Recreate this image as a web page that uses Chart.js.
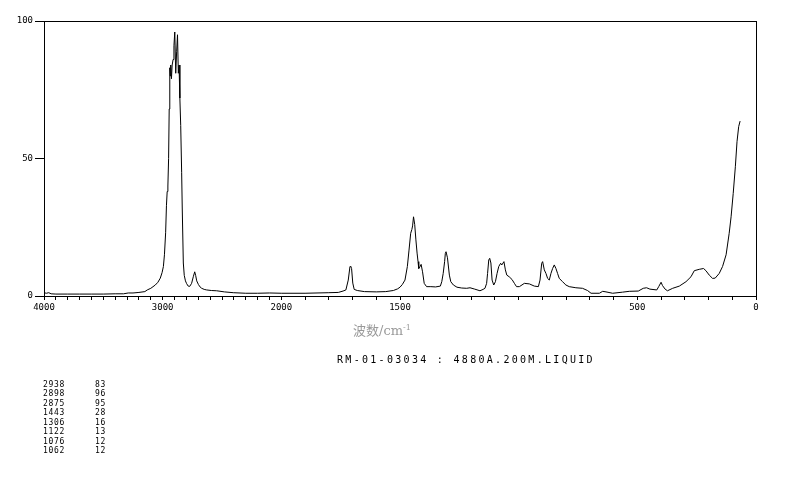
<!DOCTYPE html>
<html>
<head>
<meta charset="utf-8">
<script src="https://cdn.jsdelivr.net/npm/chart.js@4.4.1/dist/chart.umd.min.js"></script>
<style>
body{margin:0;background:#fff;}
#wrap{position:relative;width:794px;height:482px;}
#xlab{position:absolute;left:353px;top:320px;font-size:13px;color:#999;font-family:"Noto Sans CJK SC","DejaVu Serif",serif;white-space:nowrap;}
#xlab .cm{font-family:"DejaVu Serif",serif;font-size:13px;}
#xlab sup{font-size:8px;}
#title{position:absolute;left:337px;top:354px;font-family:"DejaVu Sans Mono",monospace;font-size:10px;letter-spacing:2.3px;white-space:pre;color:#000;}
#peaks{position:absolute;left:43px;top:380px;font-family:"DejaVu Sans Mono",monospace;font-size:8px;line-height:9.43px;letter-spacing:0.7px;color:#000;}
#peaks .w{display:inline-block;width:52px;}
</style>
</head>
<body>
<div id="wrap">
<canvas id="canvasRaman" width="794" height="482"></canvas>
<div id="xlab">波数<span class="cm">/cm<sup>-1</sup></span></div>
<div id="title">RM-01-03034 : 4880A.200M.LIQUID</div>
<div id="peaks"></div>
</div>
<script>

// spectrum (wavenumber cm-1, intensity)
let wavenumber=[4000,3980,3960,3940,3900,3800,3700,3600,3500,3400,3330,3290,3250,3200,3150,3130,3100,3062,3040,3020,3005,
2994,2985,2975,2968,2962,2956,2950,2945,2940,2936,2932,2926,2920,2912,2905,2898,2890,2882,2875,2868,2862,2855,2848,2840,
2835,2826,2818,2808,2798,2785,2772,2756,2742,2730,2722,2713,2699,2685,2671,2650,2629,2590,2545,2480,2405,2300,2200,2100,
2000,1900,1800,1760,1740,1728,1718,1711,1708,1704,1699,1693,1680,1650,1600,1560,1528,1510,1500,1490,1479,1469,1462,1455,
1450,1447,1443,1438,1433,1428,1424,1421,1416,1411,1405,1398,1388,1370,1350,1330,1324,1318,1312,1309,1306,1300,1292,1286,
1275,1260,1240,1219,1205,1185,1163,1150,1142,1135,1131,1126,1122,1117,1112,1105,1098,1091,1084,1076,1071,1062,1056,1050,
1040,1028,1018,1009,997,976,955,934,917,910,903,899,892,885,878,871,864,857,850,843,836,829,815,801,787,759,731,710,695,
660,646,632,604,562,534,496,475,461,447,418,410,400,394,383,373,351,323,295,274,260,239,221,211,197,183,172,155,141,126,
113,105,96,87,80,73,67]

let intensity=[1.2,1.0,1.2,0.8,0.7,0.7,0.7,0.7,0.7,0.8,0.8,1.1,1.1,1.3,1.6,2.2,2.8,4.0,5.0,6.5,8.5,
10.7,15,23,33,38,40,50,68,83,80,84,79,84,86,91,96,81,89,95,81,84,72,62,45,
32,12,7.5,5.5,4.5,3.6,3.5,4.6,7,8.8,7.5,5.5,4.2,3.3,2.8,2.4,2.2,2.0,1.9,1.5,1.2,1.0,1.0,1.1,
1.0,1.0,1.2,1.3,1.8,2.2,5.8,10.6,10.9,10,4.7,2.4,2.0,1.6,1.5,1.6,2.0,2.6,3.2,4.2,5.8,10.7,16.7,22.8,
24.2,25.5,28.8,26,20.4,15.6,12.5,10,10.6,11.5,8.8,4.6,3.4,3.4,3.3,3.6,5.2,8.2,12.5,15.5,16.1,13.9,7.6,5.2,
4.0,3.2,2.9,2.8,3.0,2.5,1.9,2.4,2.8,4.6,8.2,13.1,13.7,12,5.8,4.0,5.2,8.2,10.7,11.9,11.3,12.5,9.5,7.6,
7.0,6.0,4.6,3.4,3.4,4.6,4.4,3.6,3.4,5.8,11.9,12.5,9.5,8.2,6.4,5.8,8.2,10,11.3,10,8.2,6.4,5.2,4.0,3.4,3.0,2.8,2.0,1.0,
1.0,1.7,1.5,1.0,1.4,1.7,1.8,2.8,3.0,2.5,2.2,3.4,5.0,3.8,2.5,1.9,2.8,3.6,5.2,7.0,9.2,9.7,10.0,9.2,7.6,6.4,6.5,8.2,10.7,15.0,
22.8,28.8,37.3,47,56.1,61.6,63.6]

let tickLabels=[4000,3000,2000,1500,500,0]

let peakPos=[2938,2898,2875,1443,1306,1122,1076,1062]
let peakVal=[83,96,95,28,16,13,12,12]


// axis is compressed by half above 2000 cm-1
function toAxis(w){
    if (w<=2000) return w;
    return 2000+(w-2000)/2;
}
function fromAxis(u){
    if (u<=2000) return u;
    return 2000+(u-2000)*2;
}


function buildPeakTable(){
    let html=''
    for (let i=0;i<peakPos.length;i++){
        html+='<div><span class="w">'+peakPos[i]+'</span>'+peakVal[i]+'</div>'
    }
    document.getElementById('peaks').innerHTML=html
}


const framePlugin={
    id:'frame',
    afterDraw(chart){
        let a=chart.chartArea
        let ctx=chart.ctx
        ctx.save()
        ctx.strokeStyle='#000'
        ctx.lineWidth=1
        ctx.strokeRect(a.left+0.5,a.top+0.5,a.right-a.left,a.bottom-a.top)
        ctx.restore()
    }
}


function buildSpectrum(){
    let pts=[]
    for (let i=0;i<wavenumber.length;i++){
        pts.push({x:toAxis(wavenumber[i]),y:intensity[i]})
    }

    let myChart={
        type:'line',
        data:{
            datasets:[{
                label:'Raman',
                data:pts,
                borderColor:'#000',
                borderWidth:1,
                pointRadius:0,
                fill:false,
                tension:0
            }]
        },
        options:{
            responsive:false,
            animation:false,
            layout:{padding:{left:0,top:21,right:38,bottom:0}},
            plugins:{legend:{display:false},tooltip:{enabled:false}},
            scales:{
                x:{
                    type:'linear',
                    min:0,
                    max:3000,
                    reverse:true,
                    border:{color:'#000',width:1},
                    grid:{drawOnChartArea:false,color:'#000',tickLength:4},
                    afterBuildTicks(s){
                        let t=[]
                        for (let u=0;u<2000;u+=100) t.push({value:u})
                        for (let u=2000;u<=3000;u+=50) t.push({value:u})
                        s.ticks=t
                    },
                    ticks:{
                        autoSkip:false,
                        maxRotation:0,
                        padding:2,
                        color:'#000',
                        font:{family:'DejaVu Sans Mono',size:9},
                        callback(v){
                            let w=Math.round(fromAxis(v))
                            return tickLabels.includes(w) ? String(w) : ''
                        }
                    },
                    afterFit(s){
                        s.height=186
                        s.paddingLeft=0
                        s.paddingRight=0
                    }
                },
                y:{
                    min:0,
                    max:100,
                    border:{color:'#000',width:1},
                    grid:{drawOnChartArea:false,color:'#000',tickLength:9},
                    ticks:{
                        stepSize:50,
                        padding:2,
                        color:'#000',
                        font:{family:'DejaVu Sans Mono',size:9}
                    },
                    afterFit(s){
                        s.width=44
                        s.paddingTop=0
                        s.paddingBottom=0
                    }
                }
            }
        },
        plugins:[framePlugin]
    };

    let ctx=document.getElementById("canvasRaman").getContext("2d");
    new Chart(ctx,myChart);
}

buildPeakTable()
buildSpectrum()

</script>
</body>
</html>
